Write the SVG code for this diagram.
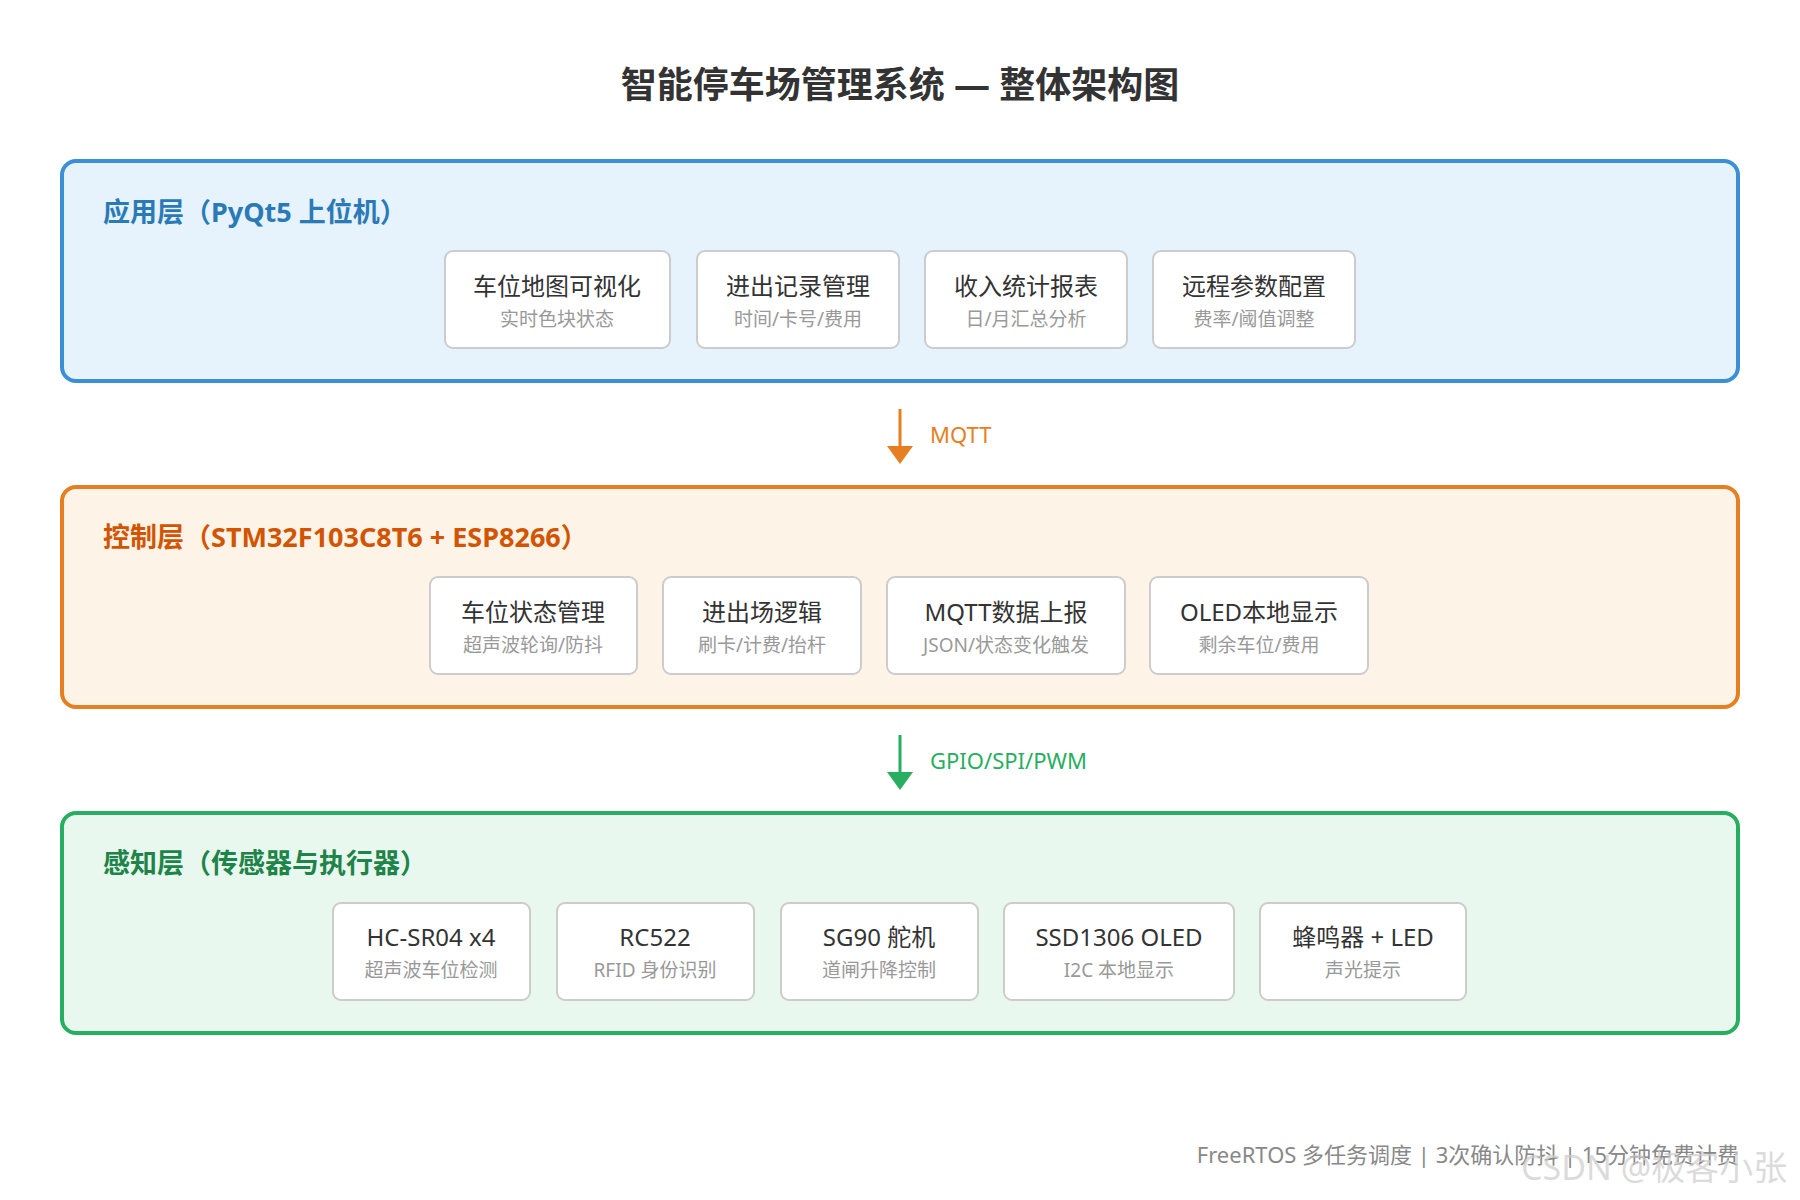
<svg xmlns="http://www.w3.org/2000/svg" width="1800" height="1200" viewBox="0 0 1800 1200">
<style>
text{font-family:"Noto Sans","Noto Sans CJK SC",sans-serif}
.title{font-size:36px;font-weight:bold;fill:#333;text-anchor:middle}
.lay{stroke-width:4}
.lbl{font-size:27px;font-weight:bold}
.box{fill:#fff;stroke:#ccc;stroke-width:2}
.m{font-size:24px;fill:#333;text-anchor:middle}
.s{font-size:19px;fill:#999;text-anchor:middle}
.al{font-size:22px}
</style>
<rect width="1800" height="1200" fill="#fff"/>
<text class="title" x="900" y="98">智能停车场管理系统 — 整体架构图</text>

<g id="layer-app">
<rect class="lay" x="62" y="161" width="1676" height="220" rx="14" fill="#e6f2fc" stroke="#3a8fd6"/>
<text class="lbl" x="103" y="222" fill="#2a7ab8">应用层（PyQt5 上位机）</text>
</g>
<g id="a1"><rect class="box" x="445" y="251" width="225" height="97" rx="8"/><text class="m" x="557" y="295">车位地图可视化</text><text class="s" x="557" y="326">实时色块状态</text></g>
<g id="a2"><rect class="box" x="697" y="251" width="202" height="97" rx="8"/><text class="m" x="798" y="295">进出记录管理</text><text class="s" x="798" y="326">时间/卡号/费用</text></g>
<g id="a3"><rect class="box" x="925" y="251" width="202" height="97" rx="8"/><text class="m" x="1026" y="295">收入统计报表</text><text class="s" x="1026" y="326">日/月汇总分析</text></g>
<g id="a4"><rect class="box" x="1153" y="251" width="202" height="97" rx="8"/><text class="m" x="1254" y="295">远程参数配置</text><text class="s" x="1254" y="326">费率/阈值调整</text></g>

<g id="layer-ctrl">
<rect class="lay" x="62" y="487" width="1676" height="220" rx="14" fill="#fdf3e6" stroke="#e67e22"/>
<text class="lbl" x="103" y="547" fill="#d35400">控制层（STM32F103C8T6 + ESP8266）</text>
</g>
<g id="c1"><rect class="box" x="430" y="577" width="207" height="97" rx="8"/><text class="m" x="533" y="621">车位状态管理</text><text class="s" x="533" y="652">超声波轮询/防抖</text></g>
<g id="c2"><rect class="box" x="663" y="577" width="198" height="97" rx="8"/><text class="m" x="762" y="621">进出场逻辑</text><text class="s" x="762" y="652">刷卡/计费/抬杆</text></g>
<g id="c3"><rect class="box" x="887" y="577" width="238" height="97" rx="8"/><text class="m" x="1006" y="621">MQTT数据上报</text><text class="s" x="1006" y="652">JSON/状态变化触发</text></g>
<g id="c4"><rect class="box" x="1150" y="577" width="218" height="97" rx="8"/><text class="m" x="1259" y="621">OLED本地显示</text><text class="s" x="1259" y="652">剩余车位/费用</text></g>

<g id="layer-sense">
<rect class="lay" x="62" y="813" width="1676" height="220" rx="14" fill="#e8f8ee" stroke="#27ae60"/>
<text class="lbl" x="103" y="873" fill="#1e8449">感知层（传感器与执行器）</text>
</g>
<g id="s1"><rect class="box" x="333" y="903" width="197" height="97" rx="8"/><text class="m" x="431" y="946">HC-SR04 x4</text><text class="s" x="431" y="977">超声波车位检测</text></g>
<g id="s2"><rect class="box" x="557" y="903" width="197" height="97" rx="8"/><text class="m" x="655" y="946">RC522</text><text class="s" x="655" y="977">RFID 身份识别</text></g>
<g id="s3"><rect class="box" x="781" y="903" width="197" height="97" rx="8"/><text class="m" x="879" y="946">SG90 舵机</text><text class="s" x="879" y="977">道闸升降控制</text></g>
<g id="s4"><rect class="box" x="1004" y="903" width="230" height="97" rx="8"/><text class="m" x="1119" y="946">SSD1306 OLED</text><text class="s" x="1119" y="977">I2C 本地显示</text></g>
<g id="s5"><rect class="box" x="1260" y="903" width="206" height="97" rx="8"/><text class="m" x="1363" y="946">蜂鸣器 + LED</text><text class="s" x="1363" y="977">声光提示</text></g>

<g id="connectors">
<line x1="900" y1="409" x2="900" y2="448" stroke="#e67e22" stroke-width="3"/>
<path d="M887,446 L913,446 L900,464 z" fill="#e67e22"/>
<text class="al" x="930" y="443" fill="#e67e22">MQTT</text>
<line x1="900" y1="735" x2="900" y2="774" stroke="#27ae60" stroke-width="3"/>
<path d="M887,772 L913,772 L900,790 z" fill="#27ae60"/>
<text class="al" x="930" y="769" fill="#27ae60">GPIO/SPI/PWM</text>
</g>

<text x="1739" y="1163" font-size="22" fill="#888" text-anchor="end">FreeRTOS 多任务调度 | 3次确认防抖 | 15分钟免费计费</text>
<text x="1521" y="1180" font-size="34" fill="#ccc" fill-opacity="0.7">CSDN @极客小张</text>
</svg>
